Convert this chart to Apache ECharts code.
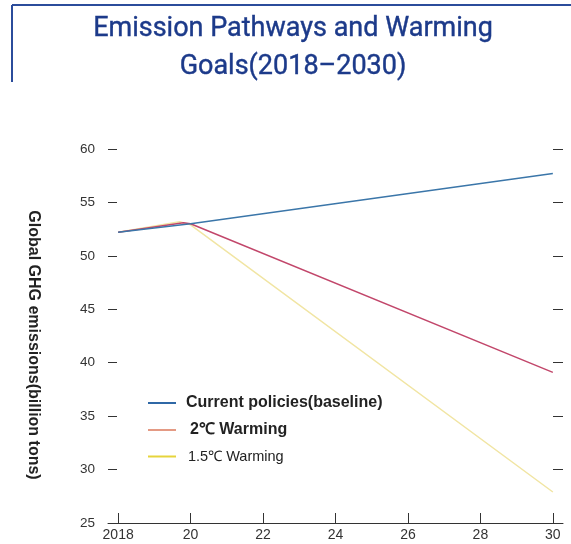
<!DOCTYPE html>
<html>
<head>
<meta charset="utf-8">
<script src="https://cdn.jsdelivr.net/npm/echarts@6/dist/echarts.min.js"></script>
<style>html,body{margin:0;padding:0;background:#fff}#c{width:571px;height:544px}</style>
</head>
<body>
<div id="c"></div>
<script>
// ---- data ----
const titleLines = ['Emission Pathways and Warming', 'Goals(2018\u20132030)'];
const yAxisTitle = 'Global GHG emissions(billion tons)';
const seriesNames = ['Current policies(baseline)', ' 2\u2103 Warming', '1.5\u2103 Warming'];
const baselineData = [[2018, 52.2], [2020, 53.0], [2030, 57.7]];
const twoDegData = [[2018, 52.2], [2019.8, 53.1], [2020, 53.0], [2030, 39.1]];
const onePointFiveData = [[2018, 52.2], [2019.7, 53.2], [2020, 52.9], [2030, 27.9]];
const xTickValues = [2018, 2020, 2022, 2024, 2026, 2028, 2030];
const xTickLabels = ['2018', '20', '22', '24', '26', '28', '30'];
const yMin = 25, yMax = 60, yStep = 5;

const chart = echarts.init(document.getElementById('c'), null, {renderer: 'canvas'});
const lineColors = ['#3b76a9', '#c2476b', '#f1e5a3'];
const legendColors = ['#2f68a6', '#e49a84', '#e6d43c'];
const fontFam = '"Liberation Sans", Arial, sans-serif';
const titleFam = 'Roboto, "Liberation Sans", sans-serif';

chart.setOption({
  animation: false,
  graphic: [
    {type: 'line', shape: {x1: 12, y1: 5, x2: 571, y2: 5}, style: {stroke: '#2b4c9b', lineWidth: 2}},
    {type: 'line', shape: {x1: 12, y1: 5, x2: 12, y2: 82}, style: {stroke: '#2b4c9b', lineWidth: 2}},
    {type: 'text', x: 293, y: 29, style: {text: titleLines[0], fill: '#1c3a8a', font: '400 27px ' + titleFam, textAlign: 'center', textVerticalAlign: 'middle', stroke: '#1c3a8a', lineWidth: 0.4}},
    {type: 'text', x: 293, y: 67, style: {text: titleLines[1], fill: '#1c3a8a', font: '400 27px ' + titleFam, textAlign: 'center', textVerticalAlign: 'middle', stroke: '#1c3a8a', lineWidth: 0.4}},
    {type: 'text', x: 33, y: 345, rotation: -Math.PI / 2, style: {text: yAxisTitle, fill: '#222', font: 'bold 16px ' + fontFam, textAlign: 'center', textVerticalAlign: 'middle'}}
  ],
  grid: {left: 108, right: 8, top: 149, bottom: 21},
  legend: {
    orient: 'vertical', left: 143, top: 390, itemGap: 11, itemWidth: 28, itemHeight: 2, icon: 'rect',
    textStyle: {fontFamily: fontFam, fontSize: 16, fontWeight: 'bold', color: '#222',
      rich: {
        a: {fontFamily: fontFam, fontSize: 16, fontWeight: 'bold', color: '#222', padding: [0, 0, 0, 5]},
        b: {fontFamily: fontFam, fontSize: 16, fontWeight: 'bold', color: '#222', padding: [0, 0, 0, 9]},
        c: {fontFamily: fontFam, fontSize: 14.5, fontWeight: 'normal', color: '#222', padding: [0, 0, 0, 7]}
      }},
    formatter: function (name) {
      const i = seriesNames.indexOf(name);
      return '{' + ['a', 'b', 'c'][i] + '|' + name.trim() + '}';
    },
    data: seriesNames.map((n, i) => ({name: n, itemStyle: {color: legendColors[i]}}))
  },
  xAxis: {
    type: 'value', min: 2017.72, max: 2030.28,
    splitLine: {show: false},
    axisLine: {show: true, lineStyle: {color: '#333', width: 1}},
    axisTick: {show: true, inside: true, length: 10, customValues: xTickValues, lineStyle: {color: '#333'}},
    axisLabel: {customValues: xTickValues, color: '#333', fontSize: 14, fontFamily: fontFam, margin: 5,
      formatter: v => xTickLabels[xTickValues.indexOf(Math.round(v))]}
  },
  yAxis: [
    {type: 'value', min: yMin, max: yMax, interval: yStep, position: 'left',
      splitLine: {show: false}, axisLine: {show: false},
      axisTick: {show: true, inside: true, length: 9, lineStyle: {color: '#333'}},
      axisLabel: {color: '#333', fontSize: 13.5, fontFamily: fontFam, margin: 13}},
    {type: 'value', min: yMin, max: yMax, interval: yStep, position: 'right',
      splitLine: {show: false}, axisLine: {show: false},
      axisTick: {show: true, inside: true, length: 10, lineStyle: {color: '#333'}},
      axisLabel: {show: false}}
  ],
  series: [
    {name: seriesNames[2], type: 'line', data: onePointFiveData, symbol: 'none', lineStyle: {color: lineColors[2], width: 1.5}, itemStyle: {color: lineColors[2]}},
    {name: seriesNames[1], type: 'line', data: twoDegData, symbol: 'none', lineStyle: {color: lineColors[1], width: 1.5}, itemStyle: {color: lineColors[1]}},
    {name: seriesNames[0], type: 'line', data: baselineData, symbol: 'none', lineStyle: {color: lineColors[0], width: 1.5}, itemStyle: {color: lineColors[0]}}
  ]
});
</script>
</body>
</html>
